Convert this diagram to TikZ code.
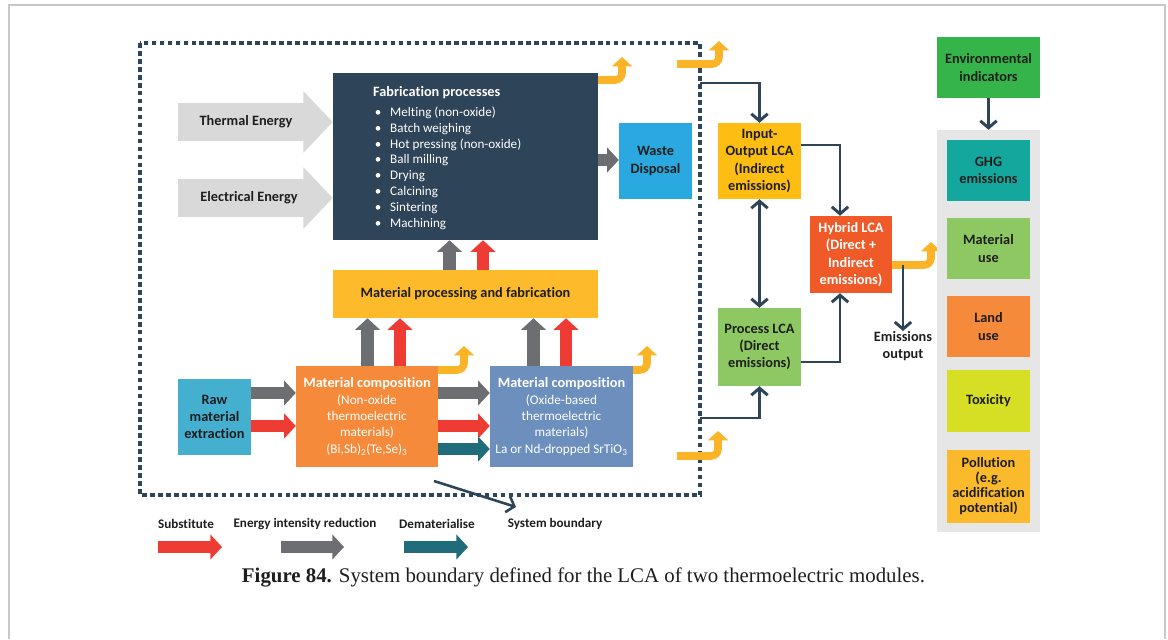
\documentclass[tikz,border=0pt]{standalone}
\usepackage{fontspec}
\setmainfont{Carlito}[Ligatures=NoCommon]
\newfontfamily\capfont{Liberation Serif}
\usetikzlibrary{arrows.meta}

\definecolor{navy}{HTML}{2E4459}
\definecolor{arrgray}{HTML}{6D6E71}
\definecolor{arrred}{HTML}{EE3B33}
\definecolor{arrteal}{HTML}{216C7A}
\definecolor{gold}{HTML}{FBB328}
\definecolor{lgray}{HTML}{D9D9D9}
\definecolor{procyellow}{HTML}{FDBB2B}
\definecolor{ioamber}{HTML}{FDBD12}
\definecolor{compor}{HTML}{F58A3A}
\definecolor{compblue}{HTML}{6C8FBD}
\definecolor{rawblue}{HTML}{45AFD0}
\definecolor{wasteblue}{HTML}{29A9E0}
\definecolor{procgreen}{HTML}{8DC862}
\definecolor{hybred}{HTML}{F05A28}
\definecolor{envgreen}{HTML}{35B44A}
\definecolor{ghgteal}{HTML}{14A79D}
\definecolor{toxyellow}{HTML}{D6DF24}
\definecolor{pollgold}{HTML}{FBBA2C}
\definecolor{panelgray}{HTML}{E6E6E6}
\definecolor{framegray}{HTML}{C8C8C8}
\definecolor{ink}{HTML}{1E1E1E}

\newcommand\fabitem{\makebox[14.5pt][l]{\hspace{1.5pt}\textbullet}}

\tikzset{wh/.style 2 args={minimum width=#1*0.03cm, minimum height=#2*0.03cm}}

\begin{document}
\begin{tikzpicture}[x=0.03cm, y=-0.03cm,
    blk/.style={rectangle, inner sep=0pt, align=center, text=ink,
      font=\fontsize{12.2}{14.8}\selectfont\bfseries},
    comp/.style={blk, text=white, font=\fontsize{11.3}{14}\selectfont},
    fat/.style={line width=11pt, -{Triangle[length=10pt,width=21pt]}},
    gfat/.style={fat, draw=arrgray},
    rfat/.style={fat, draw=arrred},
    tfat/.style={fat, draw=arrteal},
    energy/.style={draw=lgray, line width=32pt, -{Triangle[length=25pt,width=51pt]}},
    emit/.style={draw=gold, line width=6.5pt, rounded corners=6pt,
      -{Triangle[length=8pt,width=17pt]}},
    link/.style={draw=navy, line width=2.5pt, -{Straight Barb[length=6pt,width=14pt]}},
    dlink/.style={link, {Straight Barb[length=6pt,width=14pt]}-{Straight Barb[length=6pt,width=14pt]}},
    lgd/.style={inner sep=0pt, text=ink, font=\fontsize{11.2}{13}\selectfont\bfseries}]

  \useasboundingbox (0,0) rectangle (1168,639);
  \draw[framegray, line width=1.7pt] (9,639) |- (1165,5) -- (1165,639);

  % system boundary
  \draw[navy, line width=2.8pt, dash pattern=on 4pt off 2.8pt] (140,43) rectangle (700,495);

  % fabrication processes and energy inputs
  \node[blk, fill=navy, wh={265}{167}] (fab) at (465.5,156.5) {};
  \node[anchor=north west, inner sep=0pt, text=white, align=left,
    font=\fontsize{11.2}{13.6}\selectfont] (fablist) at (373,86)
    {{\fontsize{12.2}{14}\selectfont\bfseries Fabrication processes}\\[3.4pt]
     \fabitem Melting (non-oxide)\\
     \fabitem Batch weighing\\
     \fabitem Hot pressing (non-oxide)\\
     \fabitem Ball milling\\
     \fabitem Drying\\
     \fabitem Calcining\\
     \fabitem Sintering\\
     \fabitem Machining};

  \coordinate (th0) at (178,122);
  \coordinate (el0) at (178,198);
  \draw[energy] (th0) -- (fab.west |- th0);
  \draw[energy] (el0) -- (fab.west |- el0);
  \node[blk] (thermal) at (246,122) {Thermal Energy};
  \node[blk] (electrical) at (249,198) {Electrical Energy};

  \node[blk, fill=wasteblue, wh={73}{76}] (waste) at (655.5,161) {Waste\\Disposal};
  \draw[gfat] (fab.east |- 0,160) -- (waste.west |- 0,160);

  % material processing
  \node[blk, fill=procyellow, wh={265}{48}] (matproc) at (465.5,294)
    {Material processing and fabrication};
  \draw[gfat] (matproc.north -| 449.5,0) -- (fab.south -| 449.5,0);
  \draw[rfat] (matproc.north -| 483,0) -- (fab.south -| 483,0);

  % material compositions
  \node[blk, fill=rawblue, wh={73}{76}] (raw) at (214.5,417) {Raw\\material\\extraction};
  \node[comp, fill=compor, wh={142}{101}] (nonox) at (367,416.5)
    {{\fontsize{12.2}{14}\selectfont\bfseries Material composition}\\(Non-oxide\\thermoelectric\\materials)\\
     (Bi,Sb)\textsubscript{2}(Te,Se)\textsubscript{3}};
  \node[comp, fill=compblue, wh={143}{101}] (oxide) at (561.5,416.5)
    {{\fontsize{12.2}{14}\selectfont\bfseries Material composition}\\(Oxide-based\\thermoelectric\\materials)\\
     La or Nd-dropped SrTiO\textsubscript{3}};

  \draw[gfat] (raw.east |- 0,393) -- (nonox.west |- 0,393);
  \draw[rfat] (raw.east |- 0,426) -- (nonox.west |- 0,426);
  \draw[gfat] (nonox.east |- 0,393) -- (oxide.west |- 0,393);
  \draw[rfat] (nonox.east |- 0,426) -- (oxide.west |- 0,426);
  \draw[tfat] (nonox.east |- 0,449) -- (oxide.west |- 0,449);
  \draw[gfat] (nonox.north -| 367.5,0) -- (matproc.south -| 367.5,0);
  \draw[rfat] (nonox.north -| 400,0) -- (matproc.south -| 400,0);
  \draw[gfat] (oxide.north -| 533.5,0) -- (matproc.south -| 533.5,0);
  \draw[rfat] (oxide.north -| 566,0) -- (matproc.south -| 566,0);

  % emissions leaving the boxes
  \coordinate (e1) at (622,57);
  \coordinate (e2a) at (677,64);
  \coordinate (e2) at (719,41);
  \coordinate (e3) at (464,346);
  \coordinate (e4) at (647,346);
  \coordinate (e5a) at (677,456);
  \coordinate (e5) at (718,431);
  \coordinate (e6) at (931,242);
  \draw[emit] (fab.east |- 0,80) -| (e1);
  \draw[emit] (e2a) -| (e2);
  \draw[emit] (nonox.east |- 0,370) -| (e3);
  \draw[emit] (oxide.east |- 0,370) -| (e4);
  \draw[emit] (e5a) -| (e5);

  % LCA methods
  \node[blk, fill=ioamber, wh={83}{76}] (io) at (759.5,161) {Input-\\Output LCA\\(Indirect\\emissions)};
  \node[blk, fill=procgreen, wh={83}{78}] (proc) at (759.5,347) {Process LCA\\(Direct\\emissions)};
  \node[blk, fill=hybred, text=white, wh={82}{77}] (hyb) at (851,254.5)
    {Hybrid LCA\\(Direct +\\Indirect\\emissions)};
  \draw[emit] (hyb.east |- 0,265) -| (e6);

  \coordinate (b1) at (700,83);
  \coordinate (b2) at (700,418);
  \draw[link] (b1) -| (io.north);
  \draw[link] (b2) -| (proc.south);
  \draw[dlink] (io) -- (proc);
  \draw[link] (io.east |- 0,145) -| (hyb.north -| 840,0);
  \draw[link] (proc.east |- 0,362) -| (hyb.south -| 840,0);

  \coordinate (em0) at (903,265);
  \node[blk, anchor=north] (emis) at (903,331) {Emissions\\output};
  \draw[link] (em0) -- (emis.north);

  % environmental indicators
  \node[blk, fill=envgreen, wh={103}{61}] (env) at (988.5,67.5) {Environmental\\indicators};
  \node[fill=panelgray, inner sep=0pt, wh={103}{402}] (panel) at (988.5,331) {};
  \draw[link] (env) -- (panel);
  \node[blk, fill=ghgteal, wh={83}{61}] (ghg) at (988.5,170.5) {GHG\\emissions};
  \node[blk, fill=procgreen, wh={83}{61}] (matuse) at (988.5,248.5) {Material\\use};
  \node[blk, fill=compor, wh={83}{61}] (land) at (988.5,326.5) {Land\\use};
  \node[blk, fill=toxyellow, wh={83}{62}] (tox) at (988.5,401) {Toxicity};
  \node[blk, fill=pollgold, wh={83}{73}, font=\fontsize{12.2}{12.8}\selectfont\bfseries] (poll)
    at (988.5,486.5) {Pollution\\(e.g.\\acidification\\potential)};

  % legend
  \coordinate (sb0) at (434,481);
  \coordinate (sb1) at (516,507);
  \draw[link, line width=2.2pt] (sb0) -- (sb1);
  \node[lgd] (lsub) at (186,524) {Substitute};
  \node[lgd] (lenergy) at (305,524) {Energy intensity reduction};
  \node[lgd] (ldemat) at (437,524) {Dematerialise};
  \node[lgd] (lsys) at (555,524) {System boundary};
  \draw[rfat] (158,547) -- (222,547);
  \draw[gfat] (281,547) -- (344,547);
  \draw[tfat] (404,547) -- (468,547);

  \node[font=\capfont\fontsize{17.8}{20}\selectfont, text=ink] (caption) at (583.5,577)
    {\textbf{Figure 84.} System boundary defined for the LCA of two thermoelectric modules.};
\end{tikzpicture}
\end{document}
